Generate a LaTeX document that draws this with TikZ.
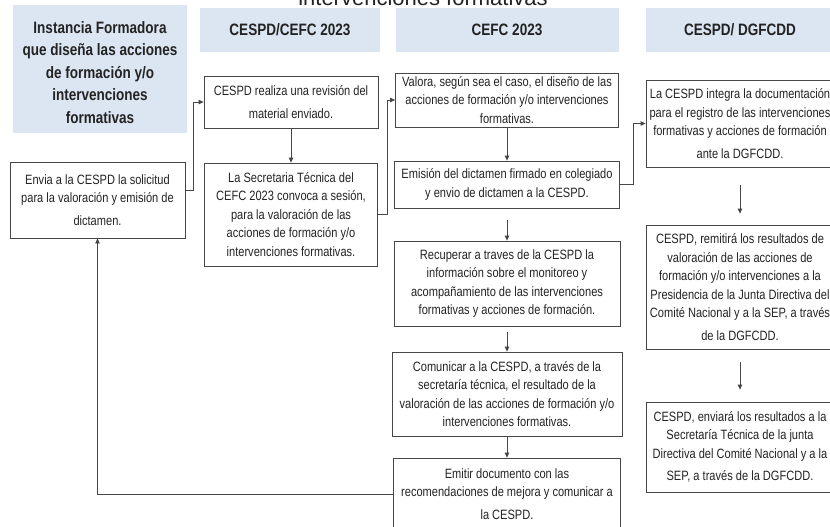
\documentclass[tikz,border=0pt]{standalone}
\usepackage{fontspec}
\setmainfont{Liberation Sans}[FakeStretch=0.82]
\newfontfamily\titlefont{Liberation Sans}
\usetikzlibrary{positioning, arrows.meta, calc}
\definecolor{headblue}{RGB}{220, 230, 242}
\definecolor{linegray}{RGB}{70, 70, 70}
\definecolor{textgray}{RGB}{35, 35, 35}

\begin{document}
\begin{tikzpicture}[x=1pt, y=-1pt, >={Triangle[length=5pt, width=4.5pt]},
    font=\fontsize{13.5}{18.5}\selectfont, text=textgray,
    procbox/.style={draw=linegray, line width=0.8pt, fill=white, align=center, inner sep=0pt},
    headbox/.style={fill=headblue, align=center, inner sep=0pt,
                    font=\bfseries\fontsize{16.5}{24}\selectfont},
    link/.style={->, draw=linegray, line width=0.8pt}]
  \useasboundingbox (0,0) rectangle (830,527);
  \clip (0,0) rectangle (830,527);
  \fill[white] (0,0) rectangle (830,527);

  % encabezados
  \node[anchor=base, font=\titlefont\fontsize{22}{24}\selectfont] (titulo) at (423,6)
        {intervenciones formativas};
  \fill[headblue] (13,5) rectangle (187,133);
  \node[headbox, fill=none, font=\bfseries\fontsize{16.5}{22.5}\selectfont] (hIF) at (100,72.5)
        {Instancia Formadora\\que diseña las acciones\\de formación y/o\\intervenciones\\formativas};
  \foreach \name/\txt/\x/\w in {hCC/{CESPD/CEFC 2023}/290/180pt,
                                hCEFC/{CEFC 2023}/507/223pt,
                                hDG/{CESPD/ DGFCDD}/740/188pt}{
    \node[headbox, minimum width=\w, minimum height=44pt] (\name) at (\x,30) {\txt};
  }

  % columna izquierda
  \node[procbox, minimum width=175pt, minimum height=76pt] (envia) at (97.5,200)
        {Envia a la CESPD la solicitud\\para la valoración y emisión de\\[4pt]dictamen.};

  % CESPD/CEFC
  \node[procbox, minimum width=174pt, minimum height=52pt] (revision) at (291,102)
        {CESPD realiza una revisión del\\[5pt]material enviado.};
  \node[procbox, minimum width=173pt, minimum height=103pt] (convoca) at (291,214.5)
        {La Secretaria Técnica del\\CEFC 2023 convoca a sesión,\\para la valoración de las\\acciones de formación y/o\\intervenciones formativas.};

  % CEFC
  \node[procbox, minimum width=223pt, minimum height=54pt] (valora) at (507,100)
        {Valora, según sea el caso, el diseño de las\\acciones de formación y/o intervenciones\\formativas.};
  \node[procbox, minimum width=225pt, minimum height=47pt] (dictamen) at (507,184.5)
        {Emisión del dictamen firmado en colegiado\\y envio de dictamen a la CESPD.};
  \node[procbox, minimum width=226pt, minimum height=85pt] (recuperar) at (507,283.5)
        {Recuperar a traves de la CESPD la\\información sobre el monitoreo y\\acompañamiento de las intervenciones\\formativas y acciones de formación.};
  \node[procbox, minimum width=230pt, minimum height=84pt] (comunicar) at (507,394)
        {Comunicar a la CESPD, a través de la\\secretaría técnica, el resultado de la\\valoración de las acciones de formación y/o\\intervenciones formativas.};
  \node[procbox, minimum width=227pt, minimum height=72pt] (emitir) at (507,494)
        {Emitir documento con las\\recomendaciones de mejora y comunicar a\\[4pt]la CESPD.};

  % CESPD/DGFCDD
  \node[procbox, minimum width=188pt, minimum height=87pt] (integra) at (740,123.5)
        {La CESPD integra la documentación\\para el registro de las intervenciones\\formativas y acciones de formación\\[4pt]ante la DGFCDD.};
  \node[procbox, minimum width=188pt, minimum height=124pt] (remitira) at (740,287)
        {CESPD, remitirá los resultados de\\valoración de las acciones de\\formación y/o intervenciones a la\\Presidencia de la Junta Directiva del\\Comité Nacional y a la SEP, a través\\[4pt]de la DGFCDD.};
  \node[procbox, minimum width=188pt, minimum height=90pt] (enviara) at (740,447)
        {CESPD, enviará los resultados a la\\Secretaría Técnica de la junta\\Directiva del Comité Nacional y a la\\[4pt]SEP, a través de la DGFCDD.};

  % conectores
  \draw[link] ([yshift=10pt]envia.east) -- ++(8,0) |- (revision.west);
  \draw[link] (revision.south) -- (convoca.north);
  \draw[link] (convoca.east) -- ++(9,0) |- (valora.west);
  \draw[link] (valora.south) -- (dictamen.north);
  \draw[link] (dictamen.east) -- ++(13,0) |- (integra.west);
  \draw[link, shorten <=12pt] (dictamen.south) -- (recuperar.north);
  \draw[link, shorten <=6pt] (recuperar.south) -- (comunicar.north);
  \draw[link] (comunicar.south) -- (emitir.north);
  \draw[link] (emitir.west) -| (envia.south);
  \draw[link, shorten <=18pt, shorten >=11pt] (integra.south) -- (remitira.north);
  \draw[link, shorten <=13pt, shorten >=12pt] (remitira.south) -- (enviara.north);
\end{tikzpicture}
\end{document}
